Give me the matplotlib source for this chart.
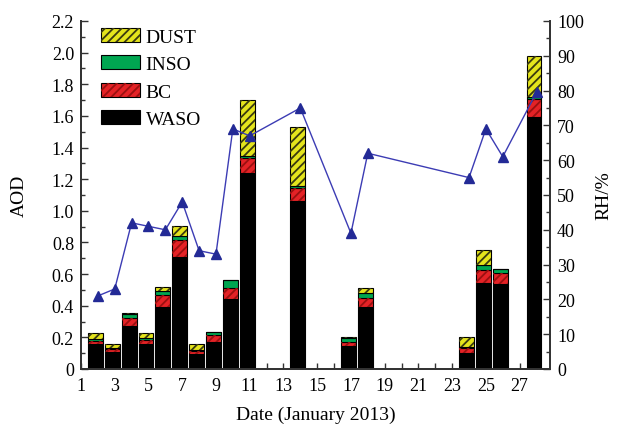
import matplotlib
matplotlib.use("Agg")
import matplotlib.pyplot as plt
from matplotlib.patches import Patch
from matplotlib.legend_handler import HandlerTuple
from matplotlib.ticker import MultipleLocator, FixedLocator, FuncFormatter

# ---- data ----
days = [2, 3, 4, 5, 6, 7, 8, 9, 10, 11, 14, 17, 18, 24, 25, 26, 28]
waso = [0.160, 0.110, 0.275, 0.160, 0.395, 0.710, 0.095, 0.168, 0.440, 1.240,
        1.060, 0.143, 0.390, 0.100, 0.545, 0.535, 1.595]
bc = [0.017, 0.015, 0.045, 0.025, 0.075, 0.105, 0.020, 0.045, 0.075, 0.095,
      0.085, 0.030, 0.060, 0.030, 0.080, 0.075, 0.115]
inso = [0.010, 0.005, 0.030, 0.010, 0.025, 0.025, 0.005, 0.022, 0.050, 0.010,
        0.010, 0.020, 0.030, 0.010, 0.030, 0.025, 0.012]
dust = [0.042, 0.030, 0.005, 0.030, 0.025, 0.065, 0.040, 0.000, 0.000, 0.355,
        0.375, 0.012, 0.035, 0.065, 0.095, 0.000, 0.255]
rh = [21, 23, 42, 41, 40, 48, 34, 33, 69, 67, 75, 39, 62, 55, 69, 61, 79.5]
xticks = list(range(1, 28, 2))

plt.rcParams['font.family'] = ['Liberation Serif', 'DejaVu Serif']
plt.rcParams['hatch.linewidth'] = 1.3

fig = plt.figure(figsize=(6.18, 4.27), dpi=100)
ax = fig.add_axes([81/618, 1-370/427, (550-81)/618, (370-22)/427])
ax2 = ax.twinx()

c_dust, h_dust = '#e4e41c', '#3a3a10'
c_inso = '#00a651'
c_bc, h_bc = '#e42226', '#9a1010'
c_waso = '#000000'

xb = [d - 0.15 for d in days]
w = 0.88
b1 = waso
b2 = [a + b for a, b in zip(waso, bc)]
b3 = [a + b for a, b in zip(b2, inso)]

ax.bar(xb, waso, w, color=c_waso, edgecolor='black', lw=0.8, zorder=2)
ax.bar(xb, bc, w, bottom=b1, color=c_bc, edgecolor='black', lw=0.8, zorder=2)
ax.bar(xb, bc, w, bottom=b1, facecolor='none', edgecolor=h_bc, lw=0, hatch='////', zorder=3)
ax.bar(xb, inso, w, bottom=b2, color=c_inso, edgecolor='black', lw=0.8, zorder=2)
ax.bar(xb, dust, w, bottom=b3, color=c_dust, edgecolor='black', lw=0.8, zorder=2)
ax.bar(xb, dust, w, bottom=b3, facecolor='none', edgecolor=h_dust, lw=0, hatch='////', zorder=3)

ax.set_xlim(1, 28.8)
ax.set_ylim(0, 2.2)
ax2.set_ylim(0, 100)

ax2.plot(days, rh, color='#3c3cb4', lw=1.0, marker='^', markersize=7.5,
         markerfacecolor='#232a96', markeredgecolor='#232a96', zorder=5)

ax.xaxis.set_major_locator(FixedLocator(xticks))
ax.xaxis.set_minor_locator(MultipleLocator(1))
ax.yaxis.set_major_locator(MultipleLocator(0.2))
ax.yaxis.set_minor_locator(MultipleLocator(0.1))
ax2.yaxis.set_major_locator(MultipleLocator(10))
ax2.yaxis.set_minor_locator(MultipleLocator(5))
ax.yaxis.set_major_formatter(FuncFormatter(lambda v, p: '0' if abs(v) < 1e-9 else f'{v:.1f}'))

for a in (ax, ax2):
    a.tick_params(which='both', direction='in', labelsize=13, width=1.0, color='#333333')
    a.tick_params(which='major', length=5)
    a.tick_params(which='minor', length=3)
    for s in a.spines.values():
        s.set_linewidth(1.3)
        s.set_color('#333333')
    a.spines['top'].set_visible(False)
ax.tick_params(axis='x', which='both', length=4, pad=6)
ax.tick_params(axis='y', pad=5)
ax2.tick_params(axis='y', pad=5)

ax.set_xlabel('Date (January 2013)', fontsize=14, labelpad=8)
ax.set_ylabel('AOD', fontsize=14, labelpad=17)
ax2.set_ylabel('RH/%', fontsize=14, rotation=90, labelpad=8)

handles = [
    (Patch(facecolor=c_dust, edgecolor='black', lw=0.8),
     Patch(facecolor='none', edgecolor=h_dust, lw=0, hatch='////')),
    Patch(facecolor=c_inso, edgecolor='black', lw=0.8),
    (Patch(facecolor=c_bc, edgecolor='black', lw=0.8),
     Patch(facecolor='none', edgecolor=h_bc, lw=0, hatch='////')),
    Patch(facecolor=c_waso, edgecolor='black', lw=0.8),
]
labels = ['DUST', 'INSO', 'BC', 'WASO']
leg = ax2.legend(handles, labels, handler_map={tuple: HandlerTuple(ndivide=1)},
                 loc='upper left', bbox_to_anchor=(101/618, 1-29/427),
                 bbox_transform=fig.transFigure, frameon=False, fontsize=14,
                 handlelength=2.0, handleheight=0.72, handletextpad=0.3,
                 labelspacing=0.5, borderpad=0, borderaxespad=0)

fig.savefig('out.png', dpi=100)
